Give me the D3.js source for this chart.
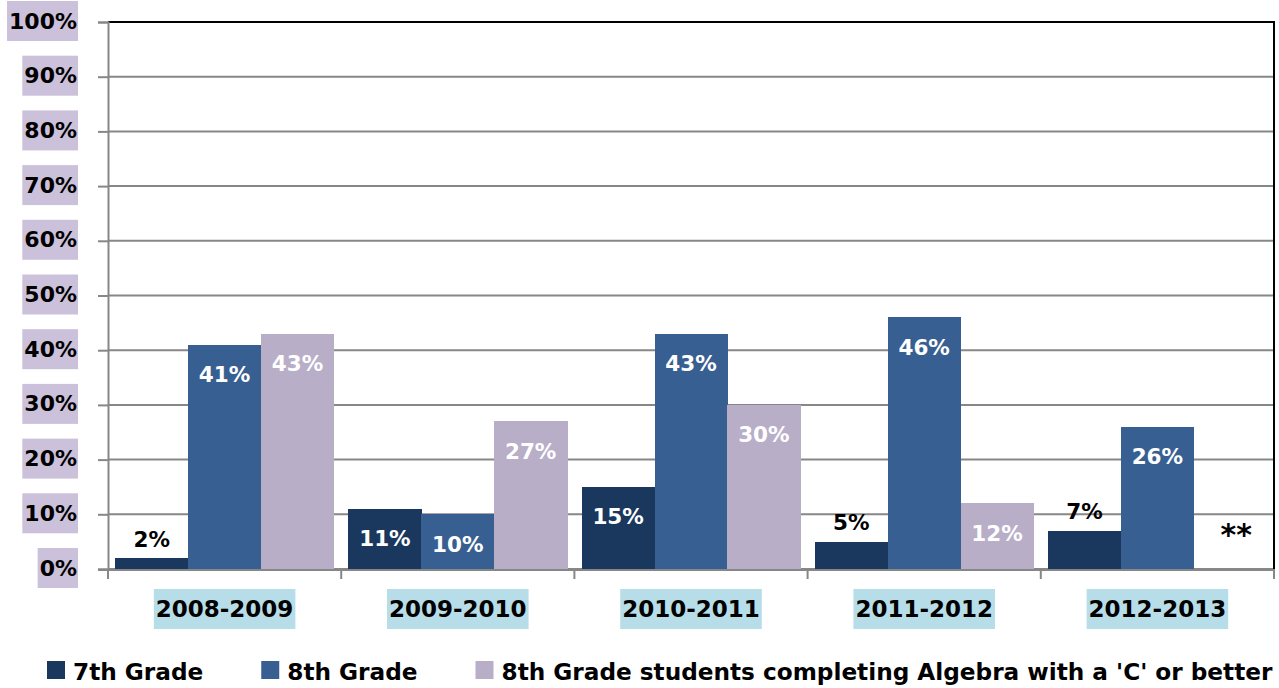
<!DOCTYPE html>
<html>
<head>
<meta charset="utf-8">
<script src="https://cdn.jsdelivr.net/npm/d3@7"></script>
<style>
  html, body { margin: 0; padding: 0; background: #ffffff; }
  svg { display: block; }
  text { font-family: "DejaVu Sans", sans-serif; font-weight: bold; }
</style>
</head>
<body>
<script>
// ---- Data ----
const categories = ["2008-2009", "2009-2010", "2010-2011", "2011-2012", "2012-2013"];
const seriesNames = ["7th Grade", "8th Grade", "8th Grade students completing Algebra with a 'C' or better"];
const grade7 = [2, 11, 15, 5, 7];
const grade8 = [41, 10, 43, 46, 26];
const algebraC = [43, 27, 30, 12, null];   // 2012-2013 shown as "**"
const missingLabel = "**";
const yTicks = [0, 10, 20, 30, 40, 50, 60, 70, 80, 90, 100];
const seriesColors = ["#1a375e", "#385f92", "#b8aec8"];

// ---- Layout ----
const W = 1279, H = 688;
const plot = { left: 108, right: 1274, top: 22, bottom: 569 };

const svg = d3.select("body").append("svg").attr("width", W).attr("height", H);
svg.append("rect").attr("width", W).attr("height", H).attr("fill", "#ffffff");

const seriesValues = [grade7, grade8, algebraC];

const x0 = d3.scaleBand().domain(categories).range([plot.left, plot.right]).paddingInner(0).paddingOuter(0);
const x1 = d3.scaleBand().domain(d3.range(seriesNames.length)).range([0, x0.bandwidth()]).paddingInner(0).paddingOuter(0.1);
const y = d3.scaleLinear().domain([0, 100]).range([plot.bottom, plot.top]);

// gridlines
svg.append("g").selectAll("line").data(yTicks).join("line")
  .attr("x1", plot.left).attr("x2", plot.right)
  .attr("y1", d => y(d)).attr("y2", d => y(d))
  .attr("stroke", "#878787").attr("stroke-width", 2);

// plot border top/right (black)
svg.append("line").attr("x1", plot.left).attr("x2", plot.right + 1).attr("y1", plot.top).attr("y2", plot.top)
  .attr("stroke", "#000").attr("stroke-width", 2);
svg.append("line").attr("x1", plot.right).attr("x2", plot.right).attr("y1", plot.top).attr("y2", plot.bottom)
  .attr("stroke", "#000").attr("stroke-width", 2);

// bars
const barData = [];
categories.forEach((c, ci) => {
  seriesValues.forEach((vals, si) => {
    barData.push({ cat: c, s: si, v: vals[ci] });
  });
});

svg.append("g").attr("shape-rendering", "crispEdges").selectAll("rect").data(barData.filter(d => d.v != null)).join("rect")
  .attr("x", d => x0(d.cat) + x1(d.s))
  .attr("width", x1.bandwidth() + 0.5)
  .attr("y", d => y(d.v))
  .attr("height", d => y(0) - y(d.v))
  .attr("fill", d => seriesColors[d.s]);

// axes
const yAxis = d3.axisLeft(y).tickValues(yTicks).tickSize(10).tickFormat("");
const gy = svg.append("g").attr("transform", `translate(${plot.left},0)`).call(yAxis);
gy.select(".domain").attr("stroke", "#878787").attr("stroke-width", 2);
gy.selectAll(".tick line").attr("stroke", "#878787").attr("stroke-width", 2);

const xTickPositions = categories.map(c => x0(c)).concat([plot.right]);
const gx = svg.append("g");
gx.append("line").attr("x1", plot.left - 10).attr("x2", plot.right).attr("y1", plot.bottom + 1).attr("y2", plot.bottom + 1)
  .attr("stroke", "#878787").attr("stroke-width", 2);
gx.selectAll("line.tk").data(xTickPositions).join("line").attr("class", "tk")
  .attr("x1", d => d).attr("x2", d => d).attr("y1", plot.bottom).attr("y2", plot.bottom + 10)
  .attr("stroke", "#878787").attr("stroke-width", 2);

// y tick labels with lavender boxes
const yl = svg.append("g");
yTicks.forEach(t => {
  const g = yl.append("g");
  const txt = g.append("text").attr("x", 77).attr("y", y(t) - 1)
    .attr("text-anchor", "end").attr("dominant-baseline", "central")
    .attr("font-size", 22).attr("fill", "#000").text(t + "%");
  const w = txt.node().getComputedTextLength();
  g.insert("rect", "text").attr("x", 77 - w - 2).attr("y", y(t) - 21).attr("width", w + 3).attr("height", 40)
    .attr("fill", "#ccc1db");
});

// x category labels with light blue boxes
const xl = svg.append("g");
categories.forEach(c => {
  const cx = x0(c) + x0.bandwidth() / 2;
  const g = xl.append("g");
  const txt = g.append("text").attr("x", cx).attr("y", 609)
    .attr("text-anchor", "middle").attr("dominant-baseline", "central")
    .attr("font-size", 23).attr("fill", "#000").text(c);
  const w = txt.node().getComputedTextLength();
  g.insert("rect", "text").attr("x", cx - w / 2 - 2).attr("y", 589).attr("width", w + 4).attr("height", 40)
    .attr("fill", "#b7dde8");
});

// data labels
const lbl = svg.append("g");
barData.forEach(d => {
  const cx = x0(d.cat) + x1(d.s) + x1.bandwidth() / 2;
  if (d.v == null) {
    lbl.append("text").attr("x", cx + 6).attr("y", y(0) - 35)
      .attr("text-anchor", "middle").attr("dominant-baseline", "central")
      .attr("font-size", 30).attr("fill", "#000").text(missingLabel);
    return;
  }
  const inside = d.v >= 9;
  lbl.append("text").attr("x", cx)
    .attr("y", inside ? y(d.v) + 30 : y(d.v) - 19)
    .attr("text-anchor", "middle").attr("dominant-baseline", "central")
    .attr("font-size", 21.5).attr("fill", inside ? "#ffffff" : "#000000")
    .text(d.v + "%");
});

// legend
const leg = svg.append("g");
let lx = 47;
seriesNames.forEach((name, i) => {
  leg.append("rect").attr("x", lx).attr("y", 661).attr("width", 18).attr("height", 18).attr("fill", seriesColors[i]);
  const t = leg.append("text").attr("x", lx + 26).attr("y", 680)
    .attr("font-size", 23.2).attr("fill", "#000").text(name);
  lx = lx + 26 + t.node().getComputedTextLength() + 58;
});
</script>
</body>
</html>
